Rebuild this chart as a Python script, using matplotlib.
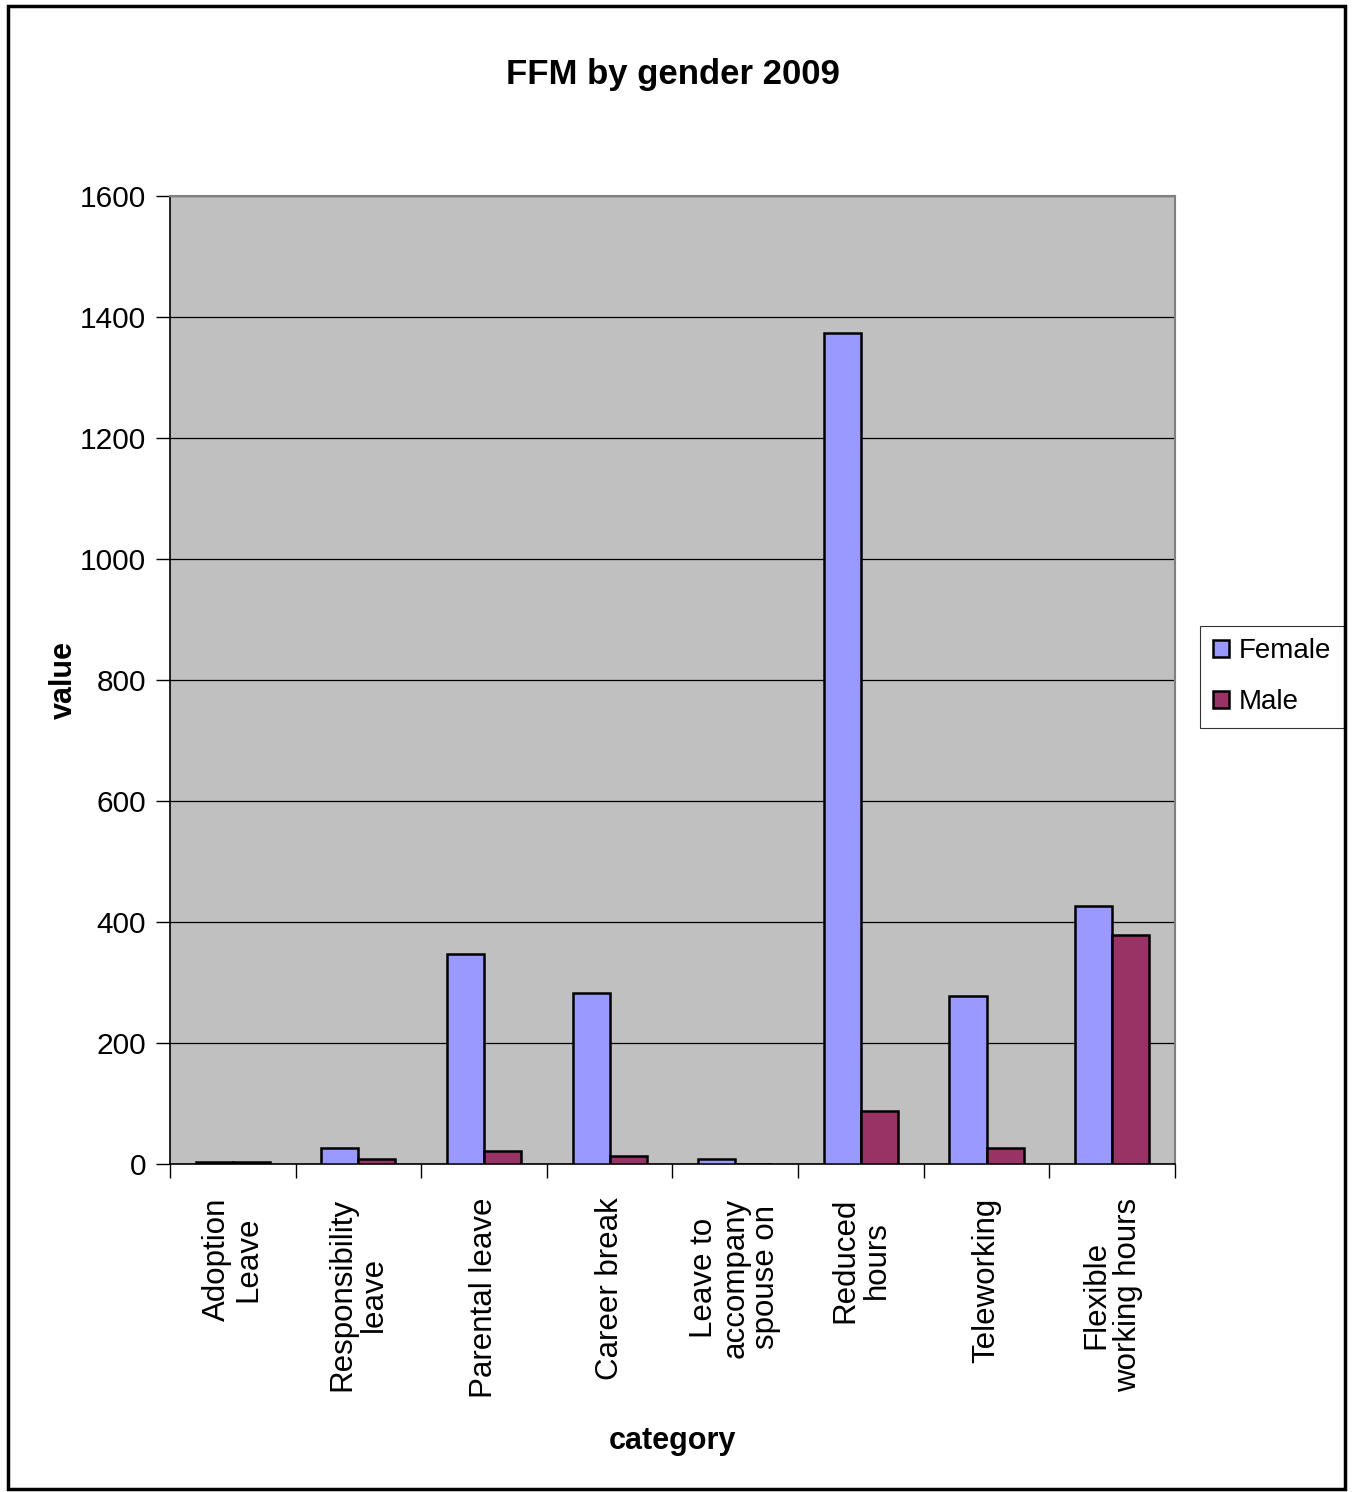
import numpy as np
import matplotlib
matplotlib.use('Agg')
import matplotlib.pyplot as plt
from matplotlib.patches import Rectangle

categories = ['Adoption\nLeave', 'Responsibility\nleave', 'Parental leave', 'Career break',
              'Leave to\naccompany\nspouse on', 'Reduced\nhours', 'Teleworking',
              'Flexible\nworking hours']
female = [3, 26, 347, 283, 8, 1374, 278, 426]
male = [3, 8, 21, 13, 0, 88, 26, 378]
series = ['Female', 'Male']
colors = ['#9999FF', '#993366']

plt.rcParams['font.family'] = ['Liberation Sans', 'DejaVu Sans']

fig = plt.figure(figsize=(13.53, 14.92), dpi=100)
ax = fig.add_axes([0.1256, 0.2198, 0.8684 - 0.1256, 0.8686 - 0.2198])
ax.set_facecolor('#C0C0C0')

x = np.arange(len(categories))
w = 0.295
ax.bar(x - w / 2, female, w, color=colors[0], edgecolor='black', linewidth=1.8, label=series[0], zorder=3)
ax.bar(x + w / 2, male, w, color=colors[1], edgecolor='black', linewidth=1.8, label=series[1], zorder=3)

ax.set_xlim(-0.5, len(categories) - 0.5)
ax.set_ylim(0, 1600)
ax.set_yticks(range(0, 1601, 200))
ax.yaxis.grid(True, color='black', linewidth=0.9, zorder=1)
ax.set_axisbelow(True)

ax.set_xticks(np.arange(-0.5, len(categories), 1.0))
ax.set_xticklabels([])
ax.set_xticks(x, minor=True)
ax.set_xticklabels(categories, minor=True, rotation=90, fontsize=22.5, ha='center', va='top',
                   multialignment='center', linespacing=1.05)
ax.tick_params(axis='x', which='minor', length=0, pad=24)
ax.tick_params(axis='x', which='major', length=10, width=1, direction='out')
ax.tick_params(axis='y', length=10, width=1, direction='out', labelsize=21.5, pad=7)

for side in ['top', 'right']:
    ax.spines[side].set_color('#808080')
    ax.spines[side].set_linewidth(1.5)
for side in ['left', 'bottom']:
    ax.spines[side].set_color('black')
    ax.spines[side].set_linewidth(1.2)

ax.set_title('FFM by gender 2009', fontsize=25, fontweight='bold', pad=81)
ax.set_ylabel('value', fontsize=22, fontweight='bold', labelpad=1)
ax.set_xlabel('category', fontsize=22, fontweight='bold', labelpad=20)

leg = ax.legend(loc='upper left', bbox_to_anchor=(1.025, 0.556), fontsize=20, frameon=True,
                fancybox=False, edgecolor='black', handlelength=0.6, handleheight=0.6,
                handletextpad=0.35, borderpad=0.45, labelspacing=0.9, borderaxespad=0)
leg.get_frame().set_linewidth(0.8)

fig.patches.append(Rectangle((0.006, 0.002), 0.988, 0.994, transform=fig.transFigure,
                             fill=False, edgecolor='black', linewidth=2.5))

fig.savefig('out.png', dpi=100)
